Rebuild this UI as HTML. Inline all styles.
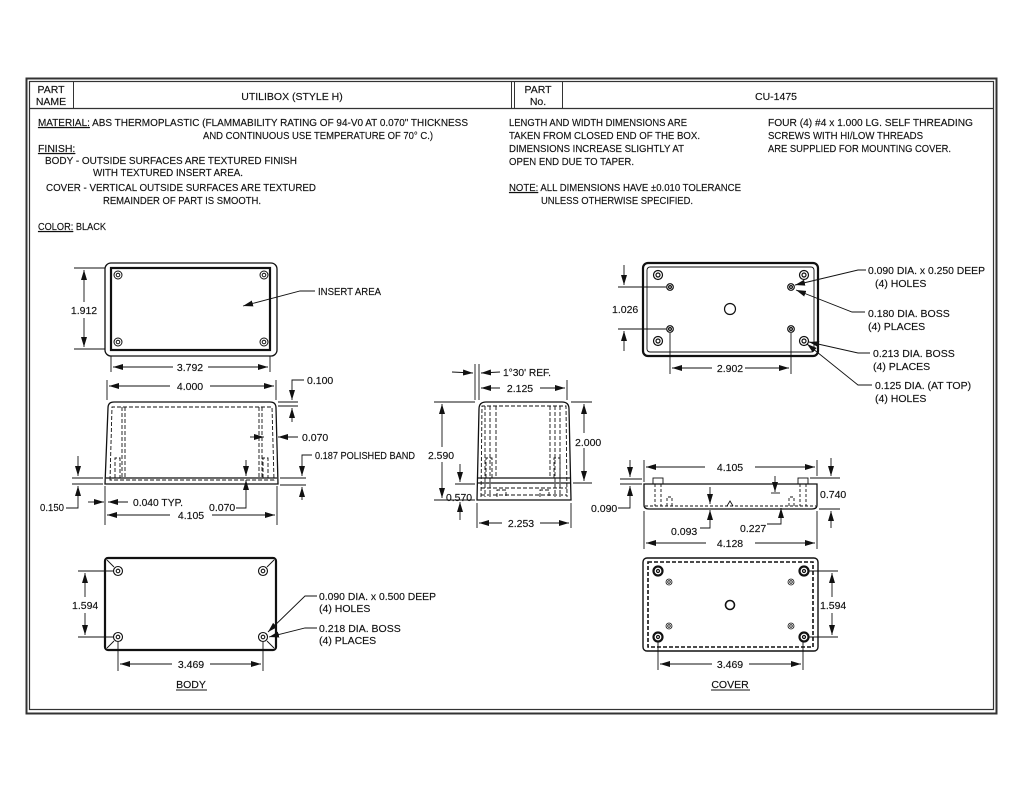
<!DOCTYPE html>
<html><head><meta charset="utf-8">
<style>
html,body{margin:0;padding:0;background:#fff;}
svg{display:block;}
text{font-family:"Liberation Sans",sans-serif;font-size:10.5px;fill:#111;stroke:#111;stroke-width:0.15;}
</style></head><body>
<svg width="1024" height="791" viewBox="0 0 1024 791" xmlns="http://www.w3.org/2000/svg">
<defs>
<marker id="a" viewBox="0 0 10 6" refX="10" refY="3" markerWidth="10" markerHeight="6" orient="auto-start-reverse" markerUnits="userSpaceOnUse"><path d="M0,0 L10,3 L0,6 z" fill="#111"/></marker>
</defs>
<g fill="none" stroke="#333">
<rect x="26.5" y="78.5" width="970" height="635" stroke-width="2"/>
<rect x="29.5" y="81.5" width="964" height="628" stroke-width="1.2"/>
<line x1="29" y1="108.5" x2="994" y2="108.5" stroke-width="1.2"/>
<line x1="73.5" y1="81" x2="73.5" y2="108" stroke-width="1"/>
<line x1="511.5" y1="81" x2="511.5" y2="108" stroke-width="1"/>
<line x1="514.5" y1="81" x2="514.5" y2="108" stroke-width="1"/>
<line x1="562.5" y1="81" x2="562.5" y2="108" stroke-width="1"/>
</g>
<text x="51" y="93" text-anchor="middle" font-size="11.5">PART</text>
<text x="51" y="105" text-anchor="middle" font-size="11.5">NAME</text>
<text x="292" y="100" text-anchor="middle" font-size="13">UTILIBOX  (STYLE H)</text>
<text x="538" y="93" text-anchor="middle" font-size="11.5">PART</text>
<text x="538" y="105" text-anchor="middle" font-size="11.5">No.</text>
<text x="776" y="100" text-anchor="middle" font-size="13">CU-1475</text>

<g>
<text x="38" y="126" textLength="430" lengthAdjust="spacingAndGlyphs"><tspan text-decoration="underline">MATERIAL:</tspan> ABS THERMOPLASTIC (FLAMMABILITY RATING OF 94-V0 AT 0.070" THICKNESS</text>
<text x="203" y="139" textLength="230" lengthAdjust="spacingAndGlyphs">AND CONTINUOUS USE TEMPERATURE OF 70° C.)</text>
<text x="38" y="152" text-decoration="underline">FINISH:</text>
<text x="45" y="164" textLength="252" lengthAdjust="spacingAndGlyphs">BODY - OUTSIDE SURFACES ARE TEXTURED FINISH</text>
<text x="93" y="176" textLength="150" lengthAdjust="spacingAndGlyphs">WITH TEXTURED INSERT AREA.</text>
<text x="46" y="191" textLength="270" lengthAdjust="spacingAndGlyphs">COVER - VERTICAL OUTSIDE SURFACES ARE TEXTURED</text>
<text x="103" y="204" textLength="158" lengthAdjust="spacingAndGlyphs">REMAINDER OF PART IS SMOOTH.</text>
<text x="38" y="230" textLength="68" lengthAdjust="spacingAndGlyphs"><tspan text-decoration="underline">COLOR:</tspan> BLACK</text>

<text x="509" y="126" textLength="178" lengthAdjust="spacingAndGlyphs">LENGTH AND WIDTH DIMENSIONS ARE</text>
<text x="509" y="139" textLength="191" lengthAdjust="spacingAndGlyphs">TAKEN FROM CLOSED END OF THE BOX.</text>
<text x="509" y="152" textLength="175" lengthAdjust="spacingAndGlyphs">DIMENSIONS INCREASE SLIGHTLY AT</text>
<text x="509" y="165" textLength="125" lengthAdjust="spacingAndGlyphs">OPEN END DUE TO TAPER.</text>
<text x="509" y="191" textLength="232" lengthAdjust="spacingAndGlyphs"><tspan text-decoration="underline">NOTE:</tspan> ALL DIMENSIONS HAVE ±0.010 TOLERANCE</text>
<text x="541" y="204" textLength="152" lengthAdjust="spacingAndGlyphs">UNLESS OTHERWISE SPECIFIED.</text>
<text x="768" y="126" textLength="205" lengthAdjust="spacingAndGlyphs">FOUR (4) #4 x 1.000 LG. SELF THREADING</text>
<text x="768" y="139" textLength="155" lengthAdjust="spacingAndGlyphs">SCREWS WITH HI/LOW THREADS</text>
<text x="768" y="152" textLength="183" lengthAdjust="spacingAndGlyphs">ARE SUPPLIED FOR MOUNTING COVER.</text>
</g>

<!-- BODY TOP VIEW -->
<g fill="none" stroke="#111">
<rect x="105" y="263" width="172" height="93" rx="6" stroke-width="1.3"/>
<rect x="111" y="268" width="159" height="82" stroke-width="2.2"/>
<g stroke-width="1"><circle cx="118" cy="275" r="4"/><circle cx="118" cy="275" r="1.8"/><circle cx="264" cy="275" r="4"/><circle cx="264" cy="275" r="1.8"/><circle cx="118" cy="342" r="4"/><circle cx="118" cy="342" r="1.8"/><circle cx="264" cy="342" r="4"/><circle cx="264" cy="342" r="1.8"/></g>
<g stroke-width="0.9">
<line x1="74" y1="268" x2="105" y2="268"/><line x1="74" y1="349" x2="105" y2="349"/>
<line x1="84" y1="270" x2="84" y2="302" marker-start="url(#a)"/><line x1="84" y1="318" x2="84" y2="347" marker-end="url(#a)"/>
<line x1="111" y1="356" x2="111" y2="372"/><line x1="270" y1="356" x2="270" y2="372"/>
<line x1="113" y1="367" x2="173" y2="367" marker-start="url(#a)"/><line x1="208" y1="367" x2="268" y2="367" marker-end="url(#a)"/>
<polyline points="315,291 300,291 243,306" marker-end="url(#a)"/>
</g>
</g>
<text x="84" y="314" text-anchor="middle">1.912</text>
<text x="190" y="371" text-anchor="middle">3.792</text>
<text x="318" y="295" textLength="63" lengthAdjust="spacingAndGlyphs">INSERT AREA</text>

<!-- BODY FRONT VIEW -->
<g fill="none" stroke="#111">
<path d="M105,484 L108,408 Q108,402 114,402 L270,402 Q276,402 276,408 L278,484 Z" stroke-width="1.3"/>
<line x1="106" y1="478" x2="277" y2="478" stroke-width="1.2"/>
<g stroke-dasharray="4,2" stroke-width="0.9">
<path d="M110,480 L112,407 L272,407 L274,480 Z"/>
<line x1="122" y1="407" x2="122" y2="478"/><line x1="125" y1="407" x2="125" y2="478"/>
<line x1="259" y1="407" x2="259" y2="478"/><line x1="262" y1="407" x2="262" y2="478"/>
<path d="M115,478 V458 H120 V478"/><path d="M263,478 V458 H268 V478"/>
</g>
<g stroke-width="0.9">
<line x1="107" y1="380" x2="107" y2="400"/><line x1="276" y1="380" x2="276" y2="400"/>
<line x1="109" y1="386" x2="170" y2="386" marker-start="url(#a)"/><line x1="210" y1="386" x2="274" y2="386" marker-end="url(#a)"/>
<line x1="278" y1="402" x2="298" y2="402"/><line x1="278" y1="406" x2="298" y2="406"/>
<polyline points="304,380 292,380 292,400" marker-end="url(#a)"/>
<line x1="292" y1="422" x2="292" y2="408" marker-end="url(#a)"/>
<line x1="250" y1="437" x2="264" y2="437" marker-end="url(#a)"/>
<line x1="298" y1="437" x2="278" y2="437" marker-end="url(#a)"/>
<polyline points="312,455 302,455 302,476" marker-end="url(#a)"/>
<line x1="280" y1="478" x2="306" y2="478"/><line x1="280" y1="485" x2="306" y2="485"/>
<line x1="302" y1="500" x2="302" y2="487" marker-end="url(#a)"/>
<line x1="72" y1="478" x2="103" y2="478"/><line x1="72" y1="484" x2="103" y2="484"/>
<line x1="78" y1="456" x2="78" y2="476" marker-end="url(#a)"/>
<polyline points="66,508 78,508 78,486" marker-end="url(#a)"/>
<line x1="105" y1="486" x2="105" y2="525"/><line x1="277" y1="486" x2="277" y2="525"/>
<line x1="88" y1="502" x2="104" y2="502" marker-end="url(#a)"/>
<line x1="128" y1="502" x2="108" y2="502" marker-end="url(#a)"/>
<polyline points="236,508 246,508 246,480" marker-end="url(#a)"/>
<line x1="246" y1="460" x2="246" y2="476" marker-end="url(#a)"/>
<line x1="107" y1="515" x2="170" y2="515" marker-start="url(#a)"/><line x1="212" y1="515" x2="275" y2="515" marker-end="url(#a)"/>
</g>
</g>
<text x="190" y="390" text-anchor="middle">4.000</text>
<text x="307" y="384">0.100</text>
<text x="302" y="441">0.070</text>
<text x="315" y="459" textLength="100" lengthAdjust="spacingAndGlyphs">0.187 POLISHED BAND</text>
<text x="40" y="511" textLength="24" lengthAdjust="spacingAndGlyphs">0.150</text>
<text x="133" y="506" textLength="50" lengthAdjust="spacingAndGlyphs">0.040 TYP.</text>
<text x="209" y="511">0.070</text>
<text x="191" y="519" text-anchor="middle">4.105</text>

<!-- SIDE VIEW -->
<g fill="none" stroke="#111">
<path d="M477,500 L479,409 Q479,402 486,402 L562,402 Q569,402 569,409 L571,500 Z" stroke-width="1.3"/>
<line x1="477" y1="478" x2="571" y2="478" stroke-width="1.2"/>
<line x1="477" y1="483" x2="571" y2="483" stroke-width="1.2"/>
<g stroke-dasharray="4,2" stroke-width="0.9">
<path d="M481,497 L482,406 L566,406 L567,497"/>
<line x1="485" y1="406" x2="485" y2="497"/><line x1="490" y1="406" x2="490" y2="497"/>
<line x1="555" y1="406" x2="555" y2="497"/><line x1="560" y1="406" x2="560" y2="497"/>
<line x1="496" y1="406" x2="496" y2="478"/><line x1="550" y1="406" x2="550" y2="478"/>
<line x1="481" y1="488" x2="567" y2="488"/><line x1="481" y1="495" x2="567" y2="495"/>
<path d="M486,478 V458 H492 V478"/><path d="M554,478 V458 H560 V478"/>
<path d="M497,497 V490 H506 V497"/><path d="M540,497 V490 H549 V497"/>
</g>
<g stroke-width="0.9">
<line x1="475" y1="364" x2="475" y2="400"/><line x1="479" y1="364" x2="479" y2="400"/>
<line x1="452" y1="372" x2="473" y2="373" marker-end="url(#a)"/>
<line x1="500" y1="372" x2="481" y2="373" marker-end="url(#a)"/>
<line x1="567" y1="380" x2="567" y2="400"/>
<line x1="481" y1="388" x2="500" y2="388" marker-start="url(#a)"/><line x1="540" y1="388" x2="565" y2="388" marker-end="url(#a)"/>
<line x1="434" y1="402" x2="475" y2="402"/><line x1="434" y1="500" x2="475" y2="500"/>
<line x1="442" y1="404" x2="442" y2="447" marker-start="url(#a)"/><line x1="442" y1="462" x2="442" y2="498" marker-end="url(#a)"/>
<line x1="571" y1="402" x2="592" y2="402"/><line x1="573" y1="483" x2="592" y2="483"/>
<line x1="584" y1="404" x2="584" y2="433" marker-start="url(#a)"/><line x1="584" y1="448" x2="584" y2="481" marker-end="url(#a)"/>
<line x1="455" y1="484" x2="475" y2="484"/>
<line x1="460" y1="464" x2="460" y2="482" marker-end="url(#a)"/>
<line x1="460" y1="520" x2="460" y2="502" marker-end="url(#a)"/>
<line x1="477" y1="503" x2="477" y2="528"/><line x1="571" y1="503" x2="571" y2="528"/>
<line x1="479" y1="523" x2="502" y2="523" marker-start="url(#a)"/><line x1="540" y1="523" x2="569" y2="523" marker-end="url(#a)"/>
</g>
</g>
<text x="503" y="376" textLength="48" lengthAdjust="spacingAndGlyphs">1°30' REF.</text>
<text x="520" y="392" text-anchor="middle">2.125</text>
<text x="428" y="459" textLength="26" lengthAdjust="spacingAndGlyphs">2.590</text>
<text x="575" y="446">2.000</text>
<text x="446" y="501" textLength="26" lengthAdjust="spacingAndGlyphs">0.570</text>
<text x="521" y="527" text-anchor="middle">2.253</text>

<!-- COVER TOP VIEW -->
<g fill="none" stroke="#111">
<rect x="643" y="263" width="175" height="93" rx="5" stroke-width="2.2"/>
<rect x="647" y="267" width="167" height="85" rx="3" stroke-width="0.9"/>
<g stroke-width="1.2">
<circle cx="658" cy="275" r="4.5"/><circle cx="658" cy="275" r="2"/>
<circle cx="804" cy="275" r="4.5"/><circle cx="804" cy="275" r="2"/>
<circle cx="658" cy="341" r="4.5"/><circle cx="658" cy="341" r="2"/>
<circle cx="804" cy="341" r="4.5"/><circle cx="804" cy="341" r="2"/>
<circle cx="670" cy="287" r="3.3"/><circle cx="670" cy="287" r="1.4"/>
<circle cx="791" cy="287" r="3.3"/><circle cx="791" cy="287" r="1.4"/>
<circle cx="670" cy="329" r="3.3"/><circle cx="670" cy="329" r="1.4"/>
<circle cx="791" cy="329" r="3.3"/><circle cx="791" cy="329" r="1.4"/>
<circle cx="730" cy="309" r="5.5"/>
</g>
<g stroke-width="0.9">
<line x1="618" y1="287" x2="666" y2="287"/><line x1="618" y1="329" x2="666" y2="329"/>
<line x1="624" y1="265" x2="624" y2="285" marker-end="url(#a)"/>
<line x1="624" y1="351" x2="624" y2="331" marker-end="url(#a)"/>
<line x1="670" y1="333" x2="670" y2="374"/><line x1="791" y1="333" x2="791" y2="374"/>
<line x1="672" y1="368" x2="712" y2="368" marker-start="url(#a)"/><line x1="745" y1="368" x2="789" y2="368" marker-end="url(#a)"/>
<polyline points="866,270 858,270 795,285" marker-end="url(#a)"/>
<polyline points="865,312 852,312 796,290" marker-end="url(#a)"/>
<polyline points="870,353 858,353 809,342" marker-end="url(#a)"/>
<polyline points="872,385 858,385 807,344" marker-end="url(#a)"/>
</g>
</g>
<text x="612" y="313">1.026</text>
<text x="730" y="372" text-anchor="middle">2.902</text>
<text x="868" y="274" textLength="117" lengthAdjust="spacingAndGlyphs">0.090 DIA. x 0.250 DEEP</text>
<text x="875" y="287">(4) HOLES</text>
<text x="868" y="317">0.180 DIA. BOSS</text>
<text x="868" y="330">(4) PLACES</text>
<text x="873" y="357">0.213 DIA. BOSS</text>
<text x="873" y="370">(4) PLACES</text>
<text x="875" y="389">0.125 DIA. (AT TOP)</text>
<text x="875" y="402">(4) HOLES</text>

<!-- COVER SIDE VIEW -->
<g fill="none" stroke="#111">
<path d="M644,484 L817,484 L817,505 Q817,509 812,509 L649,509 Q644,509 644,505 Z" stroke-width="1.3"/>
<g stroke-width="0.9">
<rect x="653" y="478" width="10" height="6"/><rect x="798" y="478" width="10" height="6"/>
</g>
<g stroke-dasharray="3,2" stroke-width="0.9">
<line x1="645" y1="506" x2="816" y2="506"/>
<line x1="655" y1="484" x2="655" y2="506"/><line x1="661" y1="484" x2="661" y2="506"/>
<line x1="800" y1="484" x2="800" y2="506"/><line x1="806" y1="484" x2="806" y2="506"/>
<path d="M667,506 V497 H672 V506"/><path d="M789,506 V497 H794 V506"/>
</g>
<path d="M727,506 L730,501 L733,506" stroke-width="0.9"/>
<g stroke-width="0.9">
<line x1="644" y1="460" x2="644" y2="482"/><line x1="817" y1="460" x2="817" y2="476"/>
<line x1="646" y1="467" x2="705" y2="467" marker-start="url(#a)"/><line x1="755" y1="467" x2="815" y2="467" marker-end="url(#a)"/>
<line x1="620" y1="479" x2="642" y2="479"/><line x1="620" y1="484" x2="642" y2="484"/>
<line x1="630" y1="460" x2="630" y2="477" marker-end="url(#a)"/>
<polyline points="618,508 630,508 630,486" marker-end="url(#a)"/>
<line x1="810" y1="478" x2="840" y2="478"/><line x1="819" y1="509" x2="840" y2="509"/>
<line x1="831" y1="458" x2="831" y2="476" marker-end="url(#a)"/>
<line x1="831" y1="528" x2="831" y2="511" marker-end="url(#a)"/>
<line x1="710" y1="487" x2="710" y2="504" marker-end="url(#a)"/>
<polyline points="700,528 710,528 710,510" marker-end="url(#a)"/>
<line x1="775" y1="476" x2="775" y2="492" marker-end="url(#a)"/>
<line x1="771" y1="493" x2="780" y2="493"/>
<polyline points="767,524 781,524 781,508" marker-end="url(#a)"/>
<line x1="644" y1="511" x2="644" y2="549"/><line x1="817" y1="511" x2="817" y2="549"/>
<line x1="646" y1="543" x2="706" y2="543" marker-start="url(#a)"/><line x1="755" y1="543" x2="815" y2="543" marker-end="url(#a)"/>
</g>
</g>
<text x="730" y="471" text-anchor="middle">4.105</text>
<text x="820" y="498">0.740</text>
<text x="591" y="512">0.090</text>
<text x="671" y="535">0.093</text>
<text x="740" y="532">0.227</text>
<text x="730" y="547" text-anchor="middle">4.128</text>

<!-- BODY BOTTOM VIEW -->
<g fill="none" stroke="#111">
<rect x="105" y="558" width="171" height="92" rx="3" stroke-width="2.2"/>
<g stroke-width="0.9">
<line x1="107" y1="560" x2="114" y2="567"/><line x1="274" y1="560" x2="267" y2="567"/>
<line x1="107" y1="648" x2="114" y2="641"/><line x1="274" y1="648" x2="267" y2="641"/>
</g>
<g stroke-width="1.1">
<circle cx="118" cy="571" r="4.5"/><circle cx="118" cy="571" r="1.8"/>
<circle cx="263" cy="571" r="4.5"/><circle cx="263" cy="571" r="1.8"/>
<circle cx="118" cy="637" r="4.5"/><circle cx="118" cy="637" r="1.8"/>
<circle cx="263" cy="637" r="4.5"/><circle cx="263" cy="637" r="1.8"/>
</g>
<g stroke-width="0.9">
<line x1="78" y1="571" x2="114" y2="571"/><line x1="78" y1="637" x2="114" y2="637"/>
<line x1="85" y1="573" x2="85" y2="597" marker-start="url(#a)"/><line x1="85" y1="613" x2="85" y2="635" marker-end="url(#a)"/>
<line x1="118" y1="642" x2="118" y2="671"/><line x1="263" y1="642" x2="263" y2="671"/>
<line x1="120" y1="664" x2="172" y2="664" marker-start="url(#a)"/><line x1="210" y1="664" x2="261" y2="664" marker-end="url(#a)"/>
<polyline points="317,596 305,596 268,632" marker-end="url(#a)"/>
<polyline points="317,628 305,628 269,637" marker-end="url(#a)"/>
</g>
<line x1="176" y1="690" x2="207" y2="690" stroke-width="0.9"/>
</g>
<text x="72" y="609">1.594</text>
<text x="191" y="668" text-anchor="middle">3.469</text>
<text x="191" y="688" text-anchor="middle" font-size="11.5">BODY</text>
<text x="319" y="600" textLength="117" lengthAdjust="spacingAndGlyphs">0.090 DIA. x 0.500 DEEP</text>
<text x="319" y="612">(4) HOLES</text>
<text x="319" y="632">0.218 DIA. BOSS</text>
<text x="319" y="644">(4) PLACES</text>

<!-- COVER BOTTOM VIEW -->
<g fill="none" stroke="#111">
<rect x="643" y="558" width="175" height="93" rx="4" stroke-width="1.4"/>
<rect x="648" y="562" width="165" height="85" stroke-width="1.6" stroke-dasharray="4,2"/>
<g stroke-width="1.2">
<circle cx="658" cy="571" r="4.5" stroke-width="2.2"/><circle cx="658" cy="571" r="1.5"/>
<circle cx="804" cy="571" r="4.5" stroke-width="2.2"/><circle cx="804" cy="571" r="1.5"/>
<circle cx="658" cy="637" r="4.5" stroke-width="2.2"/><circle cx="658" cy="637" r="1.5"/>
<circle cx="804" cy="637" r="4.5" stroke-width="2.2"/><circle cx="804" cy="637" r="1.5"/>
<g stroke-width="0.8">
<circle cx="669" cy="582" r="3"/><circle cx="669" cy="582" r="1.3"/>
<circle cx="791" cy="582" r="3"/><circle cx="791" cy="582" r="1.3"/>
<circle cx="669" cy="626" r="3"/><circle cx="669" cy="626" r="1.3"/>
<circle cx="791" cy="626" r="3"/><circle cx="791" cy="626" r="1.3"/>
</g>
<circle cx="730" cy="605" r="4.5" stroke-width="1.6"/>
</g>
<g stroke-width="0.9">
<line x1="808" y1="571" x2="838" y2="571"/><line x1="808" y1="637" x2="838" y2="637"/>
<line x1="832" y1="573" x2="832" y2="597" marker-start="url(#a)"/><line x1="832" y1="613" x2="832" y2="635" marker-end="url(#a)"/>
<line x1="658" y1="642" x2="658" y2="670"/><line x1="803" y1="642" x2="803" y2="670"/>
<line x1="660" y1="664" x2="712" y2="664" marker-start="url(#a)"/><line x1="749" y1="664" x2="801" y2="664" marker-end="url(#a)"/>
</g>
<line x1="711" y1="690" x2="750" y2="690" stroke-width="0.9"/>
</g>
<text x="820" y="609">1.594</text>
<text x="730" y="668" text-anchor="middle">3.469</text>
<text x="730" y="688" text-anchor="middle" font-size="11.5">COVER</text>
</svg>
</body></html>
